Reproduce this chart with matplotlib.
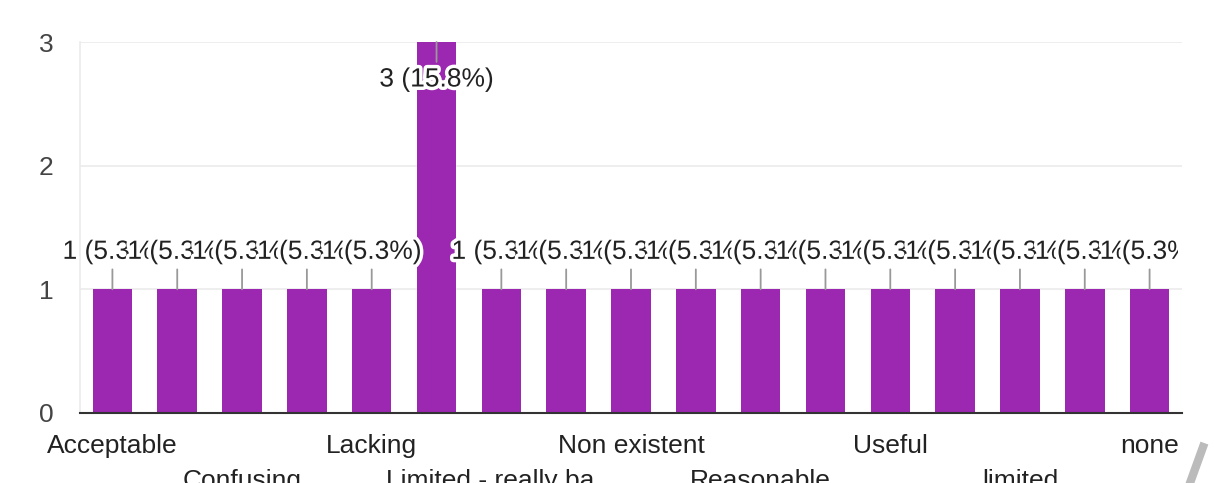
import matplotlib
matplotlib.use("Agg")
import matplotlib.pyplot as plt
import matplotlib.patheffects as pe
from matplotlib.patches import Rectangle
from matplotlib.lines import Line2D

plt.rcParams['font.family'] = ['Liberation Sans', 'DejaVu Sans']

categories = ["Acceptable", "Basic", "Confusing", "Good", "Lacking", "Limited",
              "Limited - really ba...", "Minimal", "Non existent", "Poor",
              "Reasonable", "Some", "Useful", "adequate", "limited", "minimal", "none"]
counts = [1, 1, 1, 1, 1, 3, 1, 1, 1, 1, 1, 1, 1, 1, 1, 1, 1]
total = 19
yticks = [0, 1, 2, 3]

BAR = "#9C27B0"
TXT = "#222222"
FS = 19

fig = plt.figure(figsize=(12.14, 4.83), dpi=100)
ax = fig.add_axes([80/1214, 70/483, (1182-80)/1214, (413-42)/483])

x = list(range(len(categories)))
ax.bar(x, counts, width=0.61, color=BAR, zorder=2)
ax.set_xlim(-0.5, len(categories) - 0.5)
ax.set_ylim(0, max(yticks))
ax.set_yticks(yticks)
ax.set_yticklabels([str(t) for t in yticks], fontsize=FS, color="#444444")
ax.yaxis.grid(True, color="#ebebeb", linewidth=1.2, zorder=0)
ax.tick_params(axis='y', length=0, pad=19)

for s in ["top", "right"]:
    ax.spines[s].set_visible(False)
ax.spines["left"].set_color("#ebebeb")
ax.spines["left"].set_linewidth(1.2)
ax.spines["bottom"].set_color("#333333")
ax.spines["bottom"].set_linewidth(1.5)
ax.spines["bottom"].set_zorder(3)

# x labels: every other category, alternating rows
row1 = [i for i in x if i % 4 == 0]
row2 = [i for i in x if i % 4 == 2]
ax.set_xticks(row1)
ax.set_xticklabels([categories[i] for i in row1], fontsize=FS, color=TXT)
ax.set_xticks(row2, minor=True)
ax.set_xticklabels([categories[i] for i in row2], minor=True, fontsize=FS, color=TXT)
ax.tick_params(axis='x', which='major', length=0, pad=15)
ax.tick_params(axis='x', which='minor', length=0, pad=40)

clip = Rectangle((0, 0), 1178/1214, 1, transform=fig.transFigure)
peff = [pe.withStroke(linewidth=5, foreground="white")]
top = max(counts)
for i, v in enumerate(counts):
    pct = 100.0 * v / total
    label = f"{v} ({pct:.1f}%)"
    off = -27 if v == top else 27
    t = ax.annotate(label, xy=(i, v), xytext=(0, off), textcoords="offset points",
                    ha="center", va="center", fontsize=FS, color=TXT,
                    path_effects=peff, zorder=5, annotation_clip=False,
                    arrowprops=dict(arrowstyle="-", color="#999999", lw=1.3,
                                    shrinkA=2, shrinkB=0))
    t.set_clip_path(clip)
    t.arrow_patch.set_zorder(4)

# screenshot artifact at bottom-right
fig.add_artist(Line2D([1203/1214, 1190/1214], [1 - 447/483, 1 - 483/483],
                      transform=fig.transFigure, color="#bbbbbb", lw=6))

fig.savefig("out.png", dpi=100)
